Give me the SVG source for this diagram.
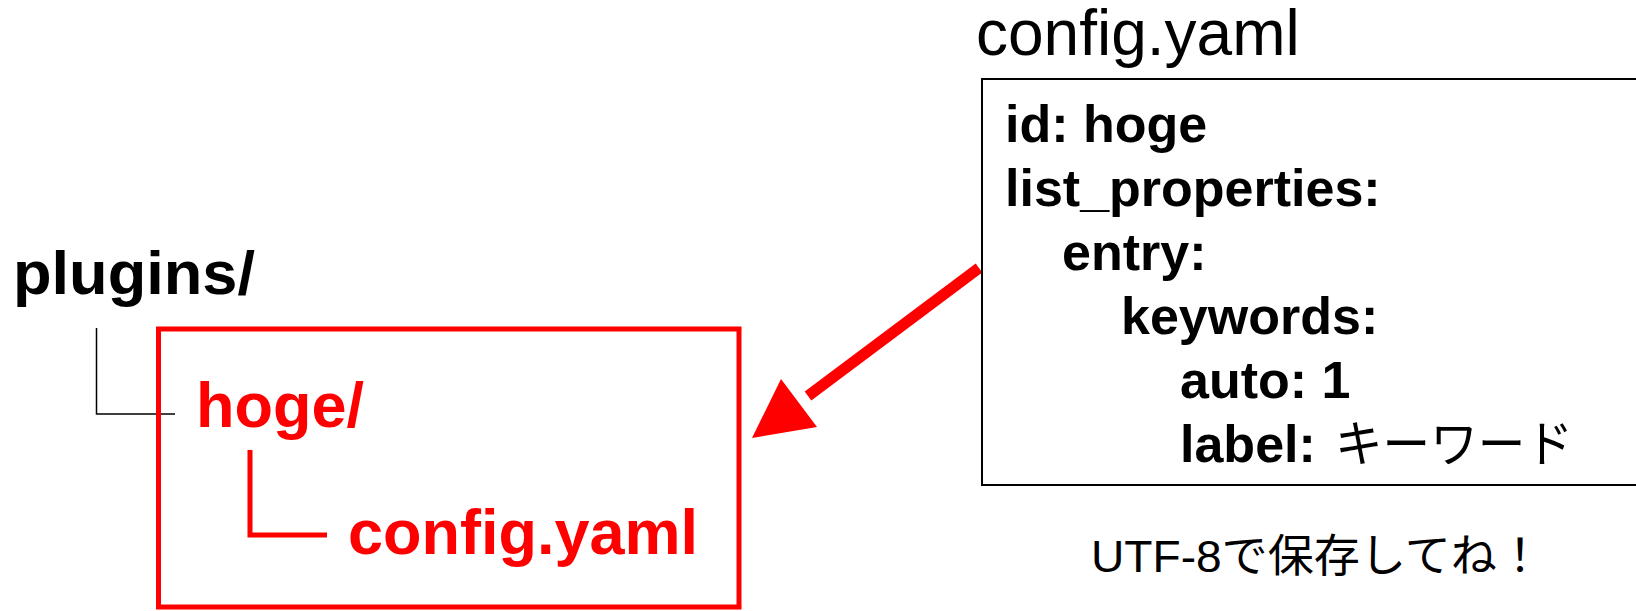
<svg xmlns="http://www.w3.org/2000/svg" width="1636" height="611" viewBox="0 0 1636 611">
<style>
.b{font-family:"Liberation Sans",Arial,sans-serif;font-weight:bold;}
.r{font-family:"Liberation Sans",Arial,sans-serif;}
.j{font-family:"Liberation Sans","Noto Sans CJK JP",sans-serif;font-weight:normal;}
.red{fill:#ff0000;}
.blk{fill:#000000;}
</style>
<rect width="1636" height="611" fill="#ffffff"/>
<g id="connectors">
<polyline points="96.5,328 96.5,414 175,414" fill="none" stroke="#000" stroke-width="1.5"/>
<polyline points="250,450 250,535 327,535" fill="none" stroke="#ff0000" stroke-width="5"/>
<line x1="979" y1="268" x2="808" y2="396" stroke="#ff0000" stroke-width="11"/>
<polygon points="752,438 781,379 817,427" fill="#ff0000"/>
</g>
<g id="plugins">
<text class="b blk" x="13" y="294" font-size="62" textLength="242" lengthAdjust="spacingAndGlyphs">plugins/</text>
</g>
<g id="hoge-box">
<rect x="158.5" y="329" width="580.5" height="278" fill="none" stroke="#ff0000" stroke-width="5"/>
</g>
<g id="hoge">
<text class="b red" x="196" y="427" font-size="63">hoge/</text>
</g>
<g id="config-file">
<text class="b red" x="348" y="554" font-size="63">config.yaml</text>
</g>
<g id="config-title">
<text class="r blk" x="976" y="55" font-size="64">config.yaml</text>
</g>
<g id="config-content">
<rect x="982" y="79" width="700" height="406" fill="#ffffff" stroke="#000" stroke-width="2"/>
<text class="b blk" x="1005" y="142" font-size="52">id: hoge</text>
<text class="b blk" x="1005" y="206" font-size="52">list_properties:</text>
<text class="b blk" x="1062" y="270" font-size="52">entry:</text>
<text class="b blk" x="1121" y="334" font-size="52">keywords:</text>
<text class="b blk" x="1180" y="398" font-size="52">auto: 1</text>
<text class="b blk" x="1180" y="462" font-size="52">label:</text>
<text class="j blk" x="1335" y="462" font-size="50" textLength="238" lengthAdjust="spacingAndGlyphs">キーワード</text>
</g>
<g id="note">
<text class="j blk" x="1091" y="572" font-size="45" textLength="452" lengthAdjust="spacingAndGlyphs">UTF-8で保存してね！</text>
</g>
</svg>
